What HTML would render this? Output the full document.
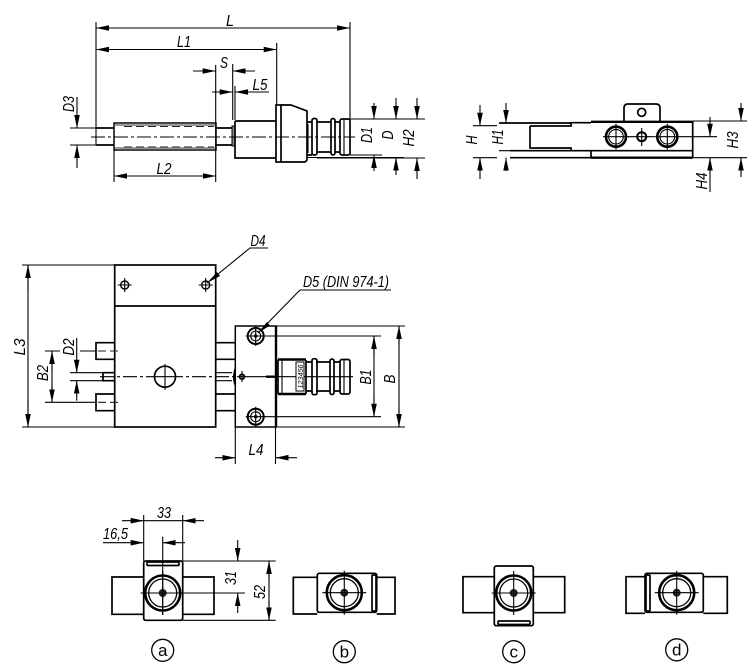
<!DOCTYPE html>
<html>
<head>
<meta charset="utf-8">
<style>
html,body{margin:0;padding:0;background:#fff;width:750px;height:665px;overflow:hidden}
svg{display:block}
.m{fill:none;stroke:#000;stroke-width:1.7}
.h{fill:none;stroke:#000;stroke-width:2.4}
.d{fill:none;stroke:#000;stroke-width:1.1}
.c{fill:none;stroke:#000;stroke-width:1.1;stroke-dasharray:14 3 3 3}
.s{fill:none;stroke:#222;stroke-width:1.1;stroke-dasharray:8 4}
.a{fill:none;stroke:#000;stroke-width:1.1;marker-end:url(#ar)}
text{font-family:"Liberation Sans",sans-serif;font-style:italic;font-size:16px;fill:#000;text-anchor:middle}
.n{font-style:normal;font-size:17px}
</style>
</head>
<body>
<svg width="750" height="665" viewBox="0 0 750 665" xmlns="http://www.w3.org/2000/svg">
<defs>
<marker id="ar" markerUnits="userSpaceOnUse" markerWidth="13" markerHeight="6" refX="13" refY="3" orient="auto">
<path d="M0,.2 L13,3 L0,5.8 Z" fill="#000"/>
</marker>
<g id="hub">
<circle r="17.5" fill="none" stroke="#000" stroke-width="2.6"/>
<circle r="14" fill="none" stroke="#000" stroke-width="1.3"/>
<circle r="4" fill="#222"/>
<circle r="1.4" fill="#777"/>
<path d="M-22,0H22M0,-22V22" class="d"/>
</g>
<g id="mh">
<circle r="8" fill="none" stroke="#000" stroke-width="2"/>
<circle r="5" fill="none" stroke="#000" stroke-width="1.1"/>
<circle r="1.8" fill="#222"/>
<path d="M-10,0H10M0,-10V10" class="d"/>
</g>
<g id="th">
<circle r="4" fill="none" stroke="#000" stroke-width="1.4"/>
<path d="M-7,0H7M0,-7V7" class="d"/>
</g>
<g id="bh">
<circle r="10" fill="none" stroke="#000" stroke-width="2.6"/>
<circle r="7.3" fill="none" stroke="#000" stroke-width="1.1"/>
<path d="M-13,0H13M0,-13V13" class="d"/>
</g>
</defs>

<!-- TOP SIDE VIEW -->
<path class="m" d="M96,128H114M96,145H114M216,128H232M216,145H232"/>
<rect x="114" y="123" width="102" height="27" fill="#fff" stroke="#000" stroke-width="1.5"/>
<rect x="115" y="123.5" width="100" height="2.5" fill="#999"/>
<rect x="115" y="147" width="100" height="2.5" fill="#999"/>
<path class="s" d="M124,126.5H214M124,147H214"/>
<rect x="232" y="126" width="3" height="20" fill="#888" stroke="#000"/>
<path class="m" d="M235,121H276M235,121V158H276"/>
<rect x="276" y="105" width="5" height="57" fill="#fff" stroke="#000" stroke-width="1.7"/>
<path class="m" d="M281,105H291L307,111V160L305,162H281"/>
<path class="m" d="M307,122H312M307,155H312M317,122H331M317,152H331M335,122H340M335,152H340"/>
<rect x="312" y="118.5" width="5" height="36.5" rx="2" class="m"/>
<rect x="331" y="118.5" width="4" height="36.5" rx="2" class="m"/>
<rect x="340" y="119" width="10" height="36" rx="2" class="m"/>
<path class="d" d="M344,119V155M308,124V153"/>
<path class="c" d="M91,137H355"/>

<!-- top dims -->
<path class="d" d="M96,22V145M350,22V120M276.7,43V105M215.7,65V182M232.7,64V120M235,86V120M114,150V182M70,128H96M70,145H96"/>
<path class="d" d="M96,28H350M96,49.5H276.7M114,176H216"/>
<path class="a" d="M130,28H96"/><path class="a" d="M316,28H350"/>
<path class="a" d="M130,49.5H96"/><path class="a" d="M243,49.5H276.7"/>
<path class="a" d="M148,176H114"/><path class="a" d="M182,176H216"/>
<path class="a" d="M193,71H215.7"/><path class="a" d="M255,71H232.7"/>
<path class="a" d="M212,92H232.7"/><path class="a" d="M269,92H235"/>
<path class="a" d="M77,97V128"/><path class="a" d="M77,168V145"/>
<path class="d" d="M350,119H388M350,155H382"/>
<path class="d" d="M307,157.5H404M340,119H425M317,158H425"/>
<path class="a" d="M374,103V119"/><path class="a" d="M374,171V155"/>
<path class="a" d="M396,98V119"/><path class="a" d="M396,175V157.5"/>
<path class="a" d="M417,98V119"/><path class="a" d="M417,179V158"/>
<text x="230" y="26" textLength="8" lengthAdjust="spacingAndGlyphs">L</text>
<text x="184" y="47" textLength="14" lengthAdjust="spacingAndGlyphs">L1</text>
<text x="224" y="68" textLength="8" lengthAdjust="spacingAndGlyphs">S</text>
<text x="260" y="90" textLength="15" lengthAdjust="spacingAndGlyphs">L5</text>
<text x="164" y="174" textLength="15" lengthAdjust="spacingAndGlyphs">L2</text>
<text transform="translate(74,104) rotate(-90)" textLength="16" lengthAdjust="spacingAndGlyphs">D3</text>
<text transform="translate(372,135) rotate(-90)" textLength="16" lengthAdjust="spacingAndGlyphs">D1</text>
<text transform="translate(393,135) rotate(-90)" textLength="9" lengthAdjust="spacingAndGlyphs">D</text>
<text transform="translate(414,138) rotate(-90)" textLength="17" lengthAdjust="spacingAndGlyphs">H2</text>

<!-- TOP RIGHT VIEW -->
<path class="m" d="M499,123H571V122.7H591M510,150.7H692.7M510,157.7H591"/>
<path class="m" d="M530,126H571V123M530,126V148H571V150.7"/>
<path class="h" d="M591,121.8H692.7M591,157.7H692.7"/>
<path class="m" d="M591,150.7V157.7M692.7,121V157.7"/>
<path class="m" d="M624,121V108Q624,104 628,104H656Q660,104 660,108V121"/>
<circle cx="641.7" cy="112.3" r="4" class="m"/>
<use href="#bh" x="616" y="136.7"/>
<use href="#bh" x="667.3" y="136.7"/>
<circle cx="641.7" cy="136.7" r="4.5" fill="none" stroke="#000" stroke-width="2"/>
<path class="d" d="M628,136.7H654M641.7,128V146M680,136.7H717"/>
<path class="d" d="M473,125.7H497M473,157.7H497M499,150.7H510M692.7,121H747M692.7,157.7H747"/>
<path class="a" d="M480,105V125.7"/><path class="a" d="M480,179V157.7"/>
<path class="a" d="M506,103V123"/><path class="a" d="M506,171V157.7"/>
<path class="a" d="M741,103V121"/><path class="a" d="M741,177V157.7"/>
<path class="a" d="M710,117V136.7"/><path class="a" d="M710,192V157.7"/>
<text transform="translate(477,140) rotate(-90)" textLength="9" lengthAdjust="spacingAndGlyphs">H</text>
<text transform="translate(503,137) rotate(-90)" textLength="15" lengthAdjust="spacingAndGlyphs">H1</text>
<text transform="translate(738,140) rotate(-90)" textLength="17" lengthAdjust="spacingAndGlyphs">H3</text>
<text transform="translate(707,181) rotate(-90)" textLength="17" lengthAdjust="spacingAndGlyphs">H4</text>

<!-- MIDDLE VIEW -->
<rect x="114.7" y="265" width="101" height="162" class="m"/>
<path class="m" d="M114.7,306H215.7"/>
<use href="#th" x="124.7" y="285"/>
<use href="#th" x="205.7" y="285"/>
<path class="d" d="M207,283L250,248H268"/>
<path d="M207,283L217,272L220,276Z" fill="#000"/>
<text x="258" y="246" textLength="15" lengthAdjust="spacingAndGlyphs">D4</text>
<path class="m" d="M114.7,342.7H96V359.3H114.7M114.7,394H96V410.7H114.7M114.7,372.7H103V380.7H114.7"/>
<path class="m" d="M216,342.7H235M216,359.3H235M216,394H235M216,410.7H235"/>
<path class="d" d="M216,372.7H232M216,380.7H232M45,351H60M80,351H96M45,402.3H96M70,372.7H103M70,380.7H103M22,265H114.7M22,427H114.7"/>
<path class="s" d="M98,351H118M98,402.3H118"/>
<path class="c" d="M100,376.7H240"/>
<circle cx="165" cy="376.7" r="10.5" class="m" style="fill:#fff"/>
<path class="d" d="M165,364V390M154,376.7H176"/>
<path class="d" d="M28,265V427M52,351V402.3"/>
<path class="a" d="M28,290V265"/><path class="a" d="M28,400V427"/>
<path class="a" d="M52,370V351"/><path class="a" d="M52,385V402.3"/>
<path class="a" d="M76.7,338V372.7"/><path class="a" d="M76.7,400.7V380.7"/>
<text transform="translate(25,347) rotate(-90)" textLength="17" lengthAdjust="spacingAndGlyphs">L3</text>
<text transform="translate(48,373) rotate(-90)" textLength="16" lengthAdjust="spacingAndGlyphs">B2</text>
<text transform="translate(74,347) rotate(-90)" textLength="17" lengthAdjust="spacingAndGlyphs">D2</text>

<rect x="235.3" y="326" width="40.7" height="101" fill="#fff" stroke="#000" stroke-width="1.5"/>
<path class="h" d="M276,326V427"/>
<path d="M235,367Q231,377 235,387L236,387V367Z" fill="#000"/>
<circle cx="242" cy="376.7" r="2.4" class="m"/>
<path class="d" d="M237,376.7H353M242,371V382"/>
<path class="h" d="M266,376.7H275"/>
<use href="#mh" x="255.7" y="336"/>
<use href="#mh" x="255.7" y="416.7"/>
<path class="d" d="M258,333L300,290H391"/>
<path d="M258,333L267,322L270,325.5Z" fill="#000"/>
<text x="346" y="287" textLength="86" lengthAdjust="spacingAndGlyphs">D5 (DIN 974-1)</text>
<path class="h" d="M278,359.5H306M278,394H306"/>
<path class="m" d="M278,359.5V394M306,360V394"/>
<path class="d" d="M282,360V394"/>
<rect x="296" y="362" width="8" height="29" fill="#fff" stroke="#000" stroke-width="1"/>
<text transform="translate(303,376.5) rotate(-90)" style="font-size:7px" textLength="24" lengthAdjust="spacingAndGlyphs">123456</text>
<path class="m" d="M306,362H312M316,362H330M334,362H340M306,391H312M316,391H330M334,391H340"/>
<rect x="312" y="358.7" width="5" height="36" rx="2" class="m"/>
<rect x="330" y="359" width="4" height="35.5" rx="2" class="m"/>
<rect x="340" y="359.5" width="10" height="34.5" rx="2" class="m"/>
<path class="d" d="M344,360V394"/>
<path class="d" d="M276,326H405M276,427H405M263,336H381M263,416.7H381M235.3,427V464M275.5,427V464"/>
<path class="d" d="M399,326V427M374,336V416.7"/>
<path class="a" d="M399,345V326"/><path class="a" d="M399,408V427"/>
<path class="a" d="M374,355V336"/><path class="a" d="M374,398V416.7"/>
<path class="a" d="M215,457.7H235.3"/><path class="a" d="M297,457.7H275.5"/>
<text transform="translate(371,377) rotate(-90)" textLength="15" lengthAdjust="spacingAndGlyphs">B1</text>
<text transform="translate(395,379) rotate(-90)" textLength="9" lengthAdjust="spacingAndGlyphs">B</text>
<text x="256" y="455" textLength="15" lengthAdjust="spacingAndGlyphs">L4</text>

<!-- VIEW A -->
<path class="m" d="M143.7,577H112V614.3H143.7M182.7,577H214V614.3H182.7"/>
<rect x="143.7" y="561" width="39" height="59.3" rx="2" class="m"/>
<rect x="147" y="562" width="32" height="3.5" rx="1" class="m"/>
<use href="#hub" x="162.7" y="593"/>
<path class="d" d="M162.7,536.7V615M140.7,593H245M182.7,515V561M143.7,515V561M182.7,561H275.7M182.7,620.3H275.7"/>
<path class="a" d="M122,520.7H143.7"/><path class="a" d="M204,520.7H182.7"/>
<path class="d" d="M143.7,520.7H182.7"/>
<path class="a" d="M103,542.7H143.7"/><path class="a" d="M185,542.7H162.7"/>
<path class="a" d="M237.7,540V561"/><path class="a" d="M237.7,613V593"/>
<path class="d" d="M269,561V620.3"/>
<path class="a" d="M269,580V561"/><path class="a" d="M269,600V620.3"/>
<text x="164" y="518" textLength="14" lengthAdjust="spacingAndGlyphs">33</text>
<text x="115.5" y="539" textLength="25" lengthAdjust="spacingAndGlyphs">16,5</text>
<text transform="translate(236,578) rotate(-90)" textLength="14" lengthAdjust="spacingAndGlyphs">31</text>
<text transform="translate(265,592) rotate(-90)" textLength="14" lengthAdjust="spacingAndGlyphs">52</text>
<circle cx="162.7" cy="650.3" r="11" class="d" style="stroke-width:1.3"/>
<text class="n" x="162.7" y="656">a</text>

<!-- VIEW B -->
<path class="m" d="M317.3,577.3H293.3V614H317.3M376.7,577.3H395V614H376.7"/>
<rect x="317.3" y="573.3" width="59.4" height="39" rx="2" class="m"/>
<rect x="372" y="575" width="4" height="36" rx="1" class="m"/>
<use href="#hub" x="344.3" y="592.7"/>
<circle cx="344.3" cy="651.7" r="11" class="d" style="stroke-width:1.3"/>
<text class="n" x="344.3" y="657.5">b</text>

<!-- VIEW C -->
<path class="m" d="M494.3,576.7H463V612.7H494.3M533.3,576.7H564.7V612.7H533.3"/>
<rect x="494.3" y="566" width="39" height="59.7" rx="2" class="m"/>
<rect x="498" y="621" width="32" height="3.5" rx="1" class="m"/>
<use href="#hub" x="513.7" y="593"/>
<circle cx="513.7" cy="651.7" r="11" class="d" style="stroke-width:1.3"/>
<text class="n" x="513.7" y="657.5">c</text>

<!-- VIEW D -->
<path class="m" d="M645,576.7H626V613.3H645M703.3,576.7H727.3V613.3H703.3"/>
<rect x="645" y="573.3" width="58.3" height="39" rx="2" class="m"/>
<rect x="646" y="575" width="4" height="36" rx="1" class="m"/>
<use href="#hub" x="676.7" y="592.7"/>
<circle cx="676.7" cy="649.8" r="11" class="d" style="stroke-width:1.3"/>
<text class="n" x="676.7" y="655.5">d</text>
</svg>
</body>
</html>
